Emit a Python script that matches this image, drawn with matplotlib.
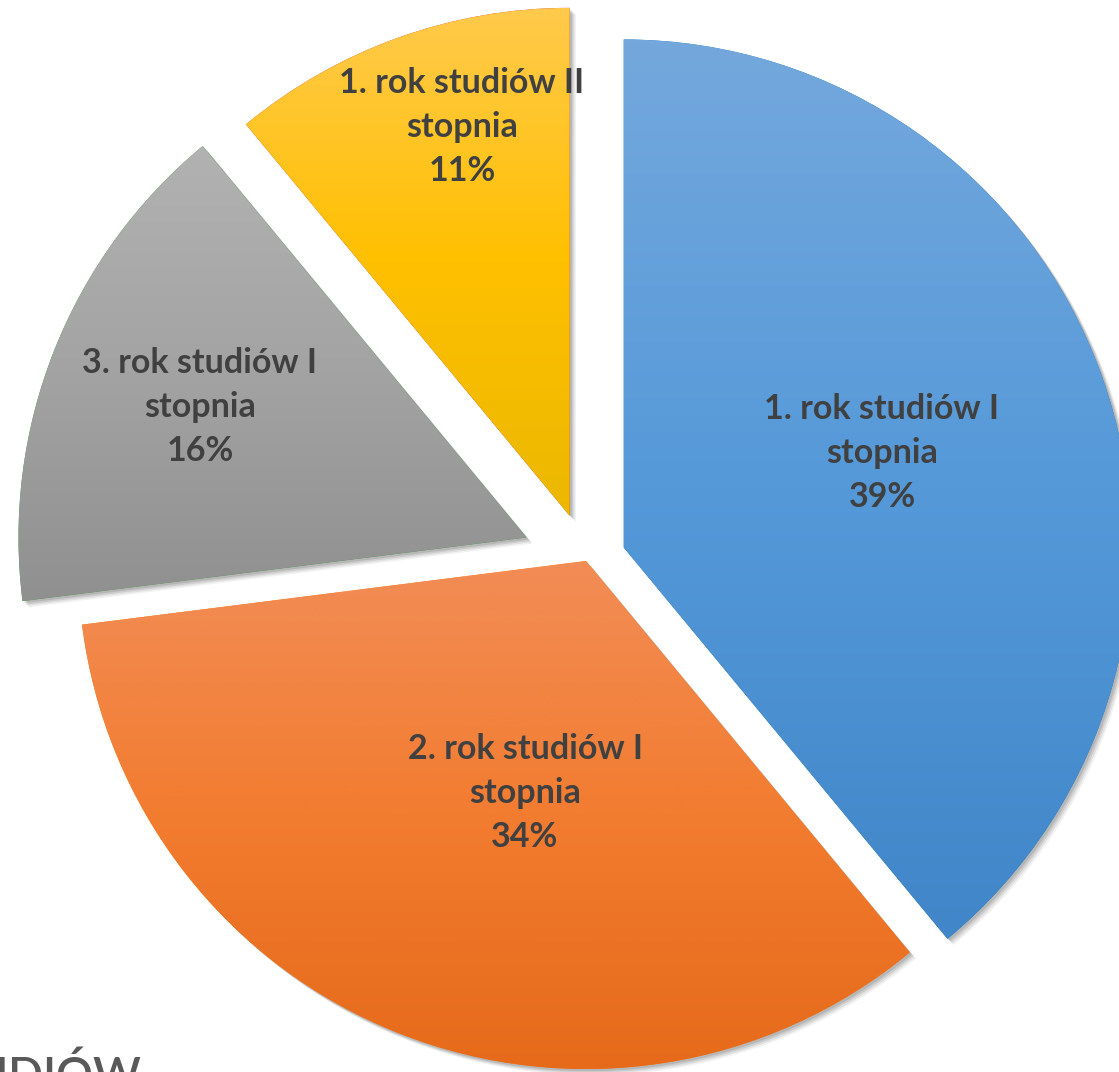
import numpy as np
import matplotlib
matplotlib.use("Agg")
import matplotlib.pyplot as plt
import matplotlib.patheffects as pe
from matplotlib.colors import LinearSegmentedColormap, to_rgb

# ---- data ----
categories = ["1. rok studiów I\nstopnia", "2. rok studiów I\nstopnia",
              "3. rok studiów I\nstopnia", "1. rok studiów II\nstopnia"]
values = [39, 34, 16, 11]
pct_labels = ["39%", "34%", "16%", "11%"]

# ---- style / layout ----
W, H = 1119, 1072
grad_stops = [
    ["#74A8DD", "#5599D9", "#4086C8"],
    ["#F28D56", "#F27C30", "#E66A1A"],
    ["#B2B2B2", "#A3A3A3", "#909090"],
    ["#FFCA4C", "#FFC000", "#EBB800"],
]
explode = [40, 0, 64, 48]
radius = 508
center = (586, H - 561)
label_pos = [(882, 453), (525, 793), (200, 407), (462, 127)]

fig = plt.figure(figsize=(W / 100, H / 100), dpi=100)
ax = fig.add_axes([0, 0, 1, 1])

wedges, _ = ax.pie(values, startangle=90, counterclock=False, radius=radius,
                   center=center, explode=explode,
                   wedgeprops=dict(linewidth=0))

shadow = [pe.SimplePatchShadow(offset=(o, -o), shadow_rgbFace="k", alpha=a)
          for o, a in [(4.5, 0.05), (3.5, 0.07), (2.5, 0.09), (1.5, 0.1)]]
for w, stops in zip(wedges, grad_stops):
    w.set_path_effects(shadow + [pe.Normal()])
    w.set_zorder(1)
    ext = w.get_path().get_extents()
    cmap = LinearSegmentedColormap.from_list("g", [to_rgb(c) for c in stops])
    grad = np.linspace(0, 1, 256).reshape(-1, 1)
    im = ax.imshow(grad, cmap=cmap, extent=[ext.x0, ext.x1, ext.y0, ext.y1],
                   origin="upper", aspect="auto", interpolation="bilinear",
                   zorder=2)
    im.set_clip_path(w)

for (x, y), cat, p in zip(label_pos, categories, pct_labels):
    ax.text(x, H - y, cat + "\n" + p, ha="center", va="center",
            fontsize=24.5, fontweight="bold", family=["Lato", "DejaVu Sans"],
            color="#404040", linespacing=1.48, zorder=5)

ax.text(142, -18, "STUDIÓW", ha="right", va="baseline", fontsize=33,
        fontweight="semibold", family=["Lato", "DejaVu Sans"],
        color="#595959", zorder=5)

ax.set_xlim(0, W)
ax.set_ylim(0, H)
ax.set_aspect("equal")
ax.set_axis_off()
fig.savefig("out.png", dpi=100)
